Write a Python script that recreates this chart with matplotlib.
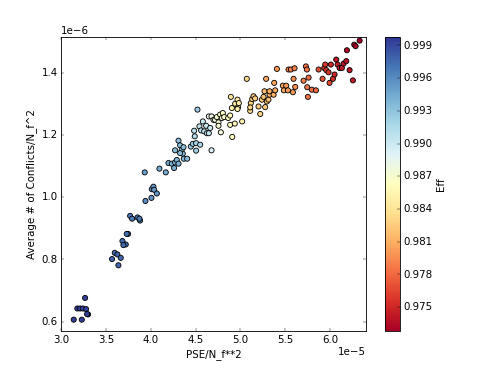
import numpy as np
import matplotlib
matplotlib.use('Agg')
import matplotlib.pyplot as plt

plt.style.use('classic')
plt.rcParams['axes.formatter.limits'] = (-5, 6)

# x: PSE/N_f**2 (units of 1e-5), y: conflicts/N_f^2 (units of 1e-6), eff
pse = [3.265, 3.178, 3.209, 3.239, 3.276, 3.298, 3.287, 3.138, 3.228,
       3.596, 3.626, 3.566, 3.663, 3.637, 3.682, 3.719, 3.693, 3.745, 3.730,
       3.768, 3.790, 3.850, 3.879, 3.872,
       3.939, 4.006, 4.010, 4.028, 4.036, 4.066, 3.931,
       4.095, 4.166, 4.196, 4.233, 4.259, 4.270, 4.289, 4.308, 4.270, 4.308,
       4.326, 4.345, 4.364, 4.356, 4.367, 4.405, 4.326, 4.446, 4.468, 4.483,
       4.490, 4.505, 4.505, 4.542, 4.550, 4.561, 4.580, 4.595, 4.617, 4.625,
       4.647, 4.662, 4.677, 4.520, 4.647, 4.677, 4.699,
       4.717, 4.736, 4.755, 4.773, 4.792, 4.803, 4.818, 4.781, 4.755, 4.863,
       4.885, 4.885, 4.893, 4.904, 4.908, 4.937, 4.941, 4.967, 4.974, 4.982,
       4.967, 5.019, 5.071,
       5.109, 5.116, 5.131, 5.146, 5.164, 5.109, 5.202, 5.221, 5.239, 5.258,
       5.269, 5.276, 5.287, 5.295, 5.313, 5.325, 5.325, 5.370, 5.377, 5.388,
       5.407, 5.474, 5.485, 5.511, 5.530, 5.537, 5.563, 5.593, 5.586, 5.612,
       5.604,
       5.705, 5.731, 5.742, 5.746, 5.761, 5.753, 5.798, 5.843, 5.873, 5.917,
       5.936, 5.947, 5.958, 5.984, 5.995, 6.010, 6.033, 6.051, 6.070, 6.085,
       6.107, 6.133, 6.152, 6.182, 6.189, 6.219, 6.256, 6.271, 6.286, 6.331]

conflicts = [0.676, 0.642, 0.642, 0.642, 0.640, 0.623, 0.624, 0.606, 0.606,
             0.821, 0.816, 0.801, 0.805, 0.781, 0.859, 0.848, 0.846, 0.882, 0.882,
             0.940, 0.931, 0.935, 0.925, 0.931,
             0.988, 0.998, 1.026, 1.034, 1.024, 1.012, 1.080,
             1.092, 1.080, 1.110, 1.108, 1.094, 1.112, 1.120, 1.108, 1.151, 1.182,
             1.167, 1.153, 1.161, 1.140, 1.124, 1.124, 1.142, 1.163, 1.172, 1.214,
             1.196, 1.174, 1.150, 1.228, 1.169, 1.215, 1.244, 1.212, 1.230, 1.206,
             1.206, 1.223, 1.151, 1.282, 1.260, 1.260, 1.249,
             1.249, 1.258, 1.241, 1.266, 1.255, 1.271, 1.258, 1.209, 1.230, 1.255,
             1.263, 1.233, 1.323, 1.287, 1.194, 1.237, 1.301, 1.314, 1.290, 1.303,
             1.284, 1.244, 1.381,
             1.278, 1.303, 1.316, 1.325, 1.318, 1.289, 1.292, 1.268, 1.314, 1.323,
             1.341, 1.290, 1.381, 1.308, 1.314, 1.330, 1.341, 1.330, 1.368, 1.344,
             1.413, 1.359, 1.344, 1.359, 1.344, 1.411, 1.411, 1.381, 1.338, 1.355,
             1.415,
             1.375, 1.421, 1.411, 1.354, 1.385, 1.323, 1.346, 1.344, 1.411, 1.381,
             1.416, 1.427, 1.409, 1.402, 1.368, 1.427, 1.381, 1.395, 1.443, 1.427,
             1.416, 1.416, 1.430, 1.438, 1.473, 1.409, 1.376, 1.491, 1.486, 1.504]

eff = [0.9993, 0.9994, 0.9993, 0.9993, 0.9992, 0.9992, 0.9993, 0.9994, 0.9993,
       0.9976, 0.9977, 0.9978, 0.9976, 0.9977, 0.9975, 0.9974, 0.9975, 0.9972, 0.9973,
       0.9968, 0.9967, 0.9966, 0.9966, 0.9967,
       0.9958, 0.9956, 0.9955, 0.9954, 0.9955, 0.9956, 0.9950,
       0.9945, 0.9944, 0.9942, 0.9941, 0.9942, 0.9939, 0.9938, 0.9940, 0.9934, 0.9930,
       0.9931, 0.9933, 0.9931, 0.9934, 0.9936, 0.9933, 0.9933, 0.9926, 0.9926, 0.9912,
       0.9915, 0.9920, 0.9922, 0.9906, 0.9918, 0.9910, 0.9900, 0.9908, 0.9902, 0.9907,
       0.9905, 0.9900, 0.9892, 0.9925, 0.9883, 0.9880, 0.9878,
       0.9875, 0.9872, 0.9874, 0.9868, 0.9870, 0.9866, 0.9868, 0.9876, 0.9872, 0.9864,
       0.9860, 0.9864, 0.9845, 0.9852, 0.9862, 0.9856, 0.9848, 0.9846, 0.9850, 0.9848,
       0.9852, 0.9852, 0.9833,
       0.9835, 0.9830, 0.9828, 0.9826, 0.9827, 0.9832, 0.9826, 0.9830, 0.9822, 0.9820,
       0.9817, 0.9824, 0.9808, 0.9820, 0.9818, 0.9813, 0.9812, 0.9810, 0.9805, 0.9808,
       0.9800, 0.9803, 0.9805, 0.9800, 0.9802, 0.9792, 0.9793, 0.9795, 0.9800, 0.9797,
       0.9790,
       0.9790, 0.9782, 0.9785, 0.9788, 0.9783, 0.9786, 0.9782, 0.9780, 0.9770, 0.9772,
       0.9762, 0.9758, 0.9760, 0.9758, 0.9765, 0.9752, 0.9756, 0.9750, 0.9742, 0.9748,
       0.9745, 0.9744, 0.9740, 0.9738, 0.9734, 0.9740, 0.9744, 0.9732, 0.9731, 0.9729]

eff_ticks = [0.975, 0.978, 0.981, 0.984, 0.987, 0.990, 0.993, 0.996, 0.999]

fig = plt.figure(figsize=(8, 6), dpi=491 / 8)
x = np.array(pse) * 1e-5
y = np.array(conflicts) * 1e-6
sc = plt.scatter(x, y, c=eff, cmap='RdYlBu', s=36, edgecolors='k',
                 vmin=0.9728, vmax=0.9998)
plt.xlim(3.0e-5, 6.4e-5)
plt.ylim(0.569e-6, 1.517e-6)
plt.xlabel('PSE/N_f**2')
plt.ylabel('Average # of Conflicts/N_f^2')
cb = plt.colorbar(sc, ticks=eff_ticks, format='%.3f')
cb.set_label('Eff')
plt.savefig('out.png', dpi=491 / 8)
